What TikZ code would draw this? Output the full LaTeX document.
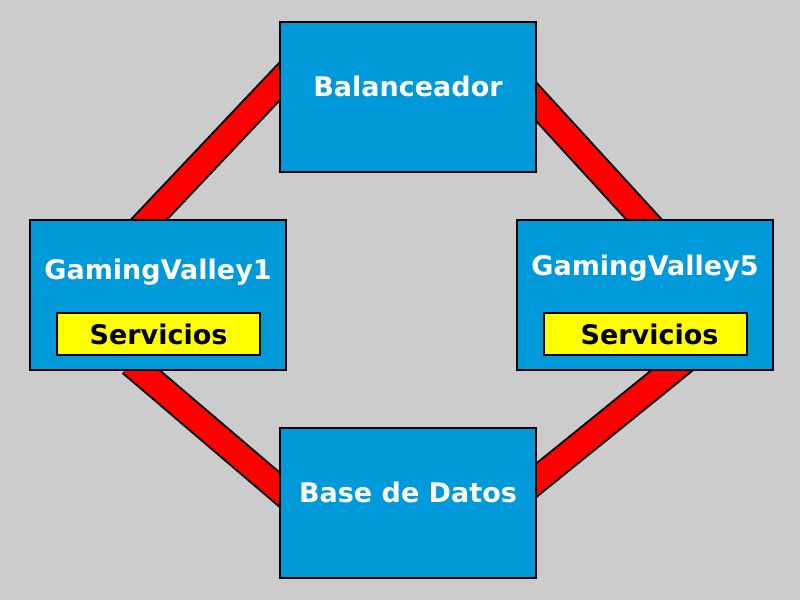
\documentclass[tikz,border=0pt]{standalone}
\usepackage{fontspec}
\setmainfont{DejaVu Sans}
\usetikzlibrary{calc}
\definecolor{gvback}{HTML}{CCCCCC}
\definecolor{gvblue}{HTML}{0099D9}
\definecolor{gvred}{HTML}{FF0000}
\definecolor{gvyellow}{HTML}{FFFF00}
\pgfdeclarelayer{canvas}
\pgfdeclarelayer{links}
\pgfsetlayers{canvas,links,main}

\begin{document}
\begin{tikzpicture}[x=1pt, y=-1pt,
    server/.style={draw=black, line width=2pt, fill=gvblue, minimum width=256pt,
      minimum height=150pt, inner sep=0pt, outer sep=0pt},
    service/.style={draw=black, line width=2pt, fill=gvyellow, minimum width=203pt,
      minimum height=42pt, inner sep=0pt, font=\fontsize{27}{32}\selectfont\bfseries},
    title/.style={anchor=base, inner sep=0pt, text=white, font=\fontsize{27}{32}\selectfont\bfseries},
    link/.style={line width=2pt, double=gvred, double distance=24pt}]
  \useasboundingbox (0,0) rectangle (800,600);
  \begin{pgfonlayer}{canvas}
    \fill[gvback] (0,0) rectangle (800,600);
  \end{pgfonlayer}

  \node[server] (bal) at (408,97) {};
  \node[server] (gv1) at (158,295) {};
  \node[server] (gv5) at (645,295) {};
  \node[server] (bd) at (408,503) {};

  \node[title] (baltext) at (408,96.5) {Balanceador};
  \node[title] (gv1text) at (158,279) {GamingValley1};
  \node[title] (gv5text) at (645,275) {GamingValley5};
  \node[title] (bdtext) at (408,502) {Base de Datos};

  \node[service] (srv1) at (158.5,334) {Servicios};
  \node[service] (srv5) at (645,334) {\hspace{9pt}Servicios};

  \begin{pgfonlayer}{links}
    \draw[link, shorten <=-20pt, shorten >=-20pt]
      ($(bal.west)+(0,-16)$) -- ($(gv1.north)+(-9.5,0)$);
    \draw[link, shorten <=-20pt, shorten >=-20pt]
      ($(bal.east)+(0,4.5)$) -- ($(gv5.north)+(-0.5,0)$);
    \draw[link, shorten >=-20pt]
      ($(gv1.south)+(-27,-7)$) -- ($(bd.west)+(0,-13)$);
    \draw[link, shorten <=-20pt, shorten >=-20pt]
      ($(gv5.south)+(27.5,0)$) -- ($(bd.east)+(0,-22.5)$);
  \end{pgfonlayer}
\end{tikzpicture}
\end{document}
